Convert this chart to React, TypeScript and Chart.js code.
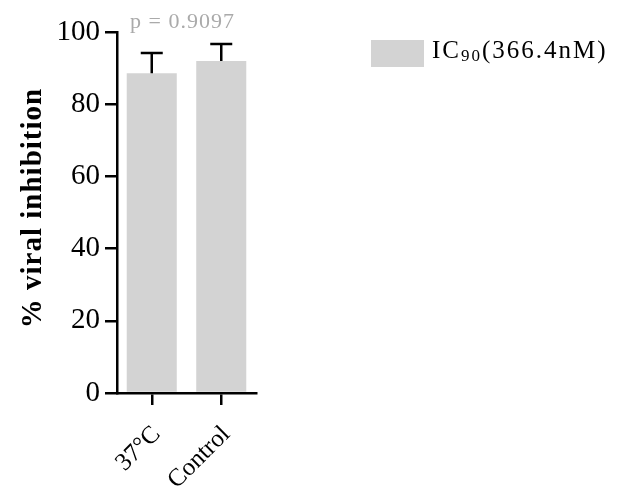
import React, { useEffect, useRef } from "react";
import { Chart, registerables } from "chart.js";

Chart.register(...registerables);

const categories = ["37°C", "Control"];
const means = [88.6, 92.0];
const errors = [5.6, 4.7];
const yTicks = [0, 20, 40, 60, 80, 100];
const pLabel = "p = 0.9097";
const yTitle = "% viral inhibition";
const legendMain = "IC";
const legendSub = "90";
const legendRest = "(366.4nM)";

const SERIF = "'Liberation Serif', 'Times New Roman', serif";

const extrasPlugin = {
  id: "extras",
  afterDatasetsDraw(chart: any) {
    const ctx = chart.ctx;
    const meta = chart.getDatasetMeta(0);
    const y = chart.scales.y;
    ctx.save();
    ctx.strokeStyle = "#000";
    ctx.lineWidth = 2.5;
    meta.data.forEach((bar: any, i: number) => {
      const top = y.getPixelForValue(means[i] + errors[i]);
      const base = y.getPixelForValue(means[i]);
      ctx.beginPath();
      ctx.moveTo(bar.x, base);
      ctx.lineTo(bar.x, top);
      ctx.moveTo(bar.x - 11, top);
      ctx.lineTo(bar.x + 11, top);
      ctx.stroke();
    });
    // p-value
    const cx = (meta.data[0].x + meta.data[1].x) / 2 - 4;
    ctx.fillStyle = "#aaaaaa";
    ctx.font = `22px ${SERIF}`;
    (ctx as any).letterSpacing = "1px";
    ctx.textAlign = "center";
    ctx.textBaseline = "alphabetic";
    ctx.fillText(pLabel, cx, 28);
    // y title
    ctx.save();
    ctx.translate(41, 208);
    ctx.rotate(-Math.PI / 2);
    ctx.fillStyle = "#000";
    ctx.font = `bold 29px ${SERIF}`;
    (ctx as any).letterSpacing = "1px";
    ctx.textAlign = "center";
    ctx.fillText(yTitle, 0, 0);
    ctx.restore();
    // legend
    ctx.fillStyle = "#d3d3d3";
    ctx.fillRect(371, 40, 53, 27);
    ctx.fillStyle = "#000";
    ctx.textAlign = "left";
    (ctx as any).letterSpacing = "2px";
    ctx.font = `25px ${SERIF}`;
    let x = 432;
    const by = 58;
    ctx.fillText(legendMain, x, by);
    x += ctx.measureText(legendMain).width;
    ctx.font = `17px ${SERIF}`;
    ctx.fillText(legendSub, x, by + 3);
    x += ctx.measureText(legendSub).width;
    ctx.font = `25px ${SERIF}`;
    ctx.fillText(legendRest, x, by);
    ctx.restore();
  },
};

export default function App() {
  const ref = useRef<HTMLCanvasElement>(null);
  useEffect(() => {
    const chart = new Chart(ref.current!, {
      type: "bar",
      data: {
        labels: categories,
        datasets: [
          {
            label: "IC90(366.4nM)",
            data: means,
            backgroundColor: "#d3d3d3",
            borderWidth: 0,
            barPercentage: 0.72,
            categoryPercentage: 1,
          },
        ],
      },
      options: {
        animation: false,
        responsive: false,
        devicePixelRatio: 1,
        layout: { padding: { left: 0, right: 364, top: 32, bottom: 0 } },
        plugins: { legend: { display: false }, tooltip: { enabled: false } },
        scales: {
          y: {
            min: 0,
            max: 100,
            afterFit: (s: any) => {
              s.width = 117;
            },
            afterBuildTicks: (s: any) => {
              s.ticks = yTicks.map((v) => ({ value: v }));
            },
            border: { display: true, color: "#000", width: 2.5 },
            grid: {
              drawOnChartArea: false,
              drawTicks: true,
              tickLength: 12,
              color: "#000",
              lineWidth: 2.5,
            },
            ticks: {
              color: "#000",
              padding: 5,
              font: { family: SERIF, size: 29 },
            },
          },
          x: {
            afterFit: (s: any) => {
              s.height = 96;
            },
            border: { display: true, color: "#000", width: 2.5 },
            grid: {
              drawOnChartArea: false,
              drawTicks: true,
              tickLength: 12,
              color: "#000",
              lineWidth: 2.5,
              offset: false,
            },
            ticks: {
              color: "#000",
              minRotation: 45,
              maxRotation: 45,
              padding: 15,
              labelOffset: 5,
              font: { family: SERIF, size: 25 },
            },
          },
        },
      },
      plugins: [extrasPlugin],
    } as any);
    return () => chart.destroy();
  }, []);
  return (
    <div style={{ position: "fixed", left: 0, top: 0, width: 620, height: 489, background: "#fff" }}>
      <canvas ref={ref} width={620} height={489} />
    </div>
  );
}
